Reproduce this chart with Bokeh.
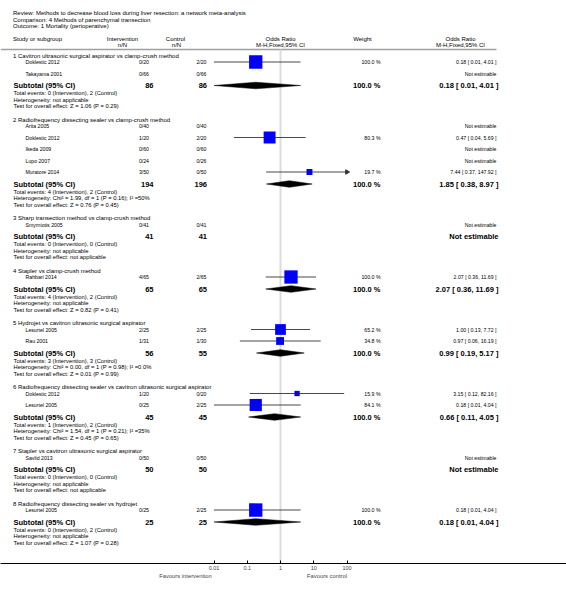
import math
from bokeh.plotting import figure
from bokeh.models import (Range1d, LogScale, LogAxis, FixedTicker,
                          CustomJSTickFormatter, ColumnDataSource)
from bokeh.core.properties import value
from bokeh.embed import file_html
from bokeh.resources import INLINE

# ---------------- data ----------------
review = "Review:  Methods to decrease blood loss during liver resection: a network meta-analysis"
comparison = "Comparison:  4 Methods of parenchymal transection"
outcome = "Outcome:  1 Mortality (perioperative)"

group_titles = [
    "1 Cavitron ultrasonic surgical aspirator vs clamp-crush method",
    "2 Radiofrequency dissecting sealer vs clamp-crush method",
    "3 Sharp transection method vs clamp-crush method",
    "4 Stapler vs clamp-crush method",
    "5 Hydrojet vs cavitron ultrasonic surgical aspirator",
    "6 Radiofrequency dissecting sealer vs cavitron ultrasonic surgical aspirator",
    "7 Stapler vs cavitron ultrasonic surgical aspirator",
    "8 Radiofrequency dissecting sealer vs hydrojet",
]
study_group = [0, 0, 1, 1, 1, 1, 1, 2, 3, 4, 4, 5, 5, 6, 7]
study_names = ["Doklestic 2012", "Takayama 2001",
               "Arita 2005", "Doklestic 2012", "Ikeda 2009", "Lupo 2007", "Muratore 2014",
               "Smyrniotis 2005", "Rahbari 2014",
               "Lesurtel 2005", "Rau 2001",
               "Doklestic 2012", "Lesurtel 2005",
               "Savlid 2013", "Lesurtel 2005"]
int_events = [0, 0, 0, 1, 0, 0, 3, 0, 4, 2, 1, 1, 0, 0, 0]
int_total = [20, 66, 40, 20, 60, 24, 50, 41, 65, 25, 31, 20, 25, 50, 25]
ctl_events = [2, 0, 0, 2, 0, 0, 0, 0, 2, 2, 1, 0, 2, 0, 2]
ctl_total = [20, 66, 40, 20, 60, 26, 50, 41, 65, 25, 30, 20, 25, 50, 25]
study_weight = [100.0, None, None, 80.3, None, None, 19.7, None, 100.0, 65.2, 34.8, 15.9, 84.1, None, 100.0]
study_or = [0.18, None, None, 0.47, None, None, 7.44, None, 2.07, 1.00, 0.97, 3.15, 0.18, None, 0.18]
study_lo = [0.01, None, None, 0.04, None, None, 0.37, None, 0.36, 0.13, 0.06, 0.12, 0.01, None, 0.01]
study_hi = [4.01, None, None, 5.69, None, None, 147.92, None, 11.69, 7.72, 16.19, 82.16, 4.04, None, 4.04]

sub_int_total = [86, 194, 41, 65, 56, 45, 50, 25]
sub_ctl_total = [86, 196, 41, 65, 55, 45, 50, 25]
sub_int_events = [0, 4, 0, 4, 3, 1, 0, 0]
sub_ctl_events = [2, 2, 0, 2, 3, 2, 0, 2]
sub_weight = [100.0, 100.0, None, 100.0, 100.0, 100.0, None, 100.0]
sub_or = [0.18, 1.85, None, 2.07, 0.99, 0.66, None, 0.18]
sub_lo = [0.01, 0.38, None, 0.36, 0.19, 0.11, None, 0.01]
sub_hi = [4.01, 8.97, None, 11.69, 5.17, 4.05, None, 4.04]
heterogeneity = ["not applicable",
                 "Chi\u00b2 = 1.99, df = 1 (P = 0.16); I\u00b2 =50%",
                 "not applicable", "not applicable",
                 "Chi\u00b2 = 0.00, df = 1 (P = 0.98); I\u00b2 =0.0%",
                 "Chi\u00b2 = 1.54, df = 1 (P = 0.21); I\u00b2 =35%",
                 "not applicable", "not applicable"]
overall_effect = ["Z = 1.06 (P = 0.29)", "Z = 0.76 (P = 0.45)", "not applicable",
                  "Z = 0.82 (P = 0.41)", "Z = 0.01 (P = 0.99)", "Z = 0.45 (P = 0.65)",
                  "not applicable", "Z = 1.07 (P = 0.28)"]
axis_ticks = [0.01, 0.1, 1, 10, 100]
axis_labels = ["0.01", "0.1", "1", "10", "100"]
favour_labels = ["Favours intervention", "Favours control"]

# ---------------- layout (screen-like coordinates) ----------------
W, H = 566, 588
OFF = 0
AXIS_Y = 563
PLOT_MIN, PLOT_MAX = 0.01, 100.0
X_ONE, DECADE = 280.0, 33.25
FAV_CENTERS = [185.0, 326.5]   # screen positions of the 'Favours' captions

FONT = value("Liberation Sans")

p = figure(width=W, height=H, output_backend="svg", toolbar_location=None,
           x_axis_location=None, y_axis_location=None,
           x_range=Range1d(OFF, OFF + W), y_range=Range1d(AXIS_Y, OFF),
           min_border_left=0, min_border_right=0, min_border_top=0,
           min_border_bottom=H - (AXIS_Y - OFF))
p.outline_line_color = None
p.grid.visible = False
p.background_fill_color = "white"
p.border_fill_color = "white"

lo_log = (OFF - X_ONE) / DECADE
hi_log = (OFF + W - X_ONE) / DECADE
p.extra_x_ranges = {"or": Range1d(10 ** lo_log, 10 ** hi_log)}
p.extra_x_scales = {"or": LogScale()}

# row positions
rows_study, rows_group, rows_sub = {}, [], []
y = 55.0
for g in range(len(group_titles)):
    rows_group.append(y)
    idx = [i for i, sg in enumerate(study_group) if sg == g]
    yy = y + 6.5
    for k, i in enumerate(idx):
        rows_study[i] = yy + 11.5 * k
    s = rows_study[idx[-1]] + 12
    rows_sub.append(s)
    y = s + 20.8 + 13.2

def txt(xs, ys, texts, size, align="left", bold=False, color="black"):
    src = ColumnDataSource(dict(x=xs, y=ys, t=texts))
    p.text(x="x", y="y", text="t", source=src, text_font=FONT,
           text_font_size=size, text_align=align, text_baseline="middle",
           text_color=color, text_font_style="bold" if bold else "normal")

# header texts
txt([12.5, 12.5, 12.5], [12.5, 19, 25], [review, comparison, outcome], "6px")
txt([12.5], [38.5], ["Study or subgroup"], "6px")
txt([122, 122, 175, 176, 280, 280, 362, 460, 460],
    [38, 44, 38, 44, 38, 44, 38, 38, 44],
    ["Intervention", "n/N", "Control", "n/N", "Odds Ratio", "M-H,Fixed,95% CI",
     "Weight", "Odds Ratio", "M-H,Fixed,95% CI"], "6px", align="center")

# header rule and reference line
p.segment(x0=[OFF], x1=[496], y0=[49], y1=[49], line_color="#a0a0a0", line_width=1.5)
p.segment(x0=[1], x1=[1], y0=[49], y1=[AXIS_Y], line_color="#dcdcdc", line_width=2,
          x_range_name="or")

# group titles
txt([12.5] * len(group_titles), rows_group, group_titles, "6px")

# studies
sy = [rows_study[i] for i in range(len(study_names))]
txt([25] * len(study_names), sy, study_names, "5.2px")
txt([148.5] * len(study_names), sy, [f"{a}/{b}" for a, b in zip(int_events, int_total)], "5.2px", align="right")
txt([206] * len(study_names), sy, [f"{a}/{b}" for a, b in zip(ctl_events, ctl_total)], "5.2px", align="right")
wy, wt, oy, ot = [], [], [], []
for i in range(len(study_names)):
    if study_weight[i] is not None:
        wy.append(sy[i]); wt.append(f"{study_weight[i]:.1f} %")
    oy.append(sy[i])
    if study_or[i] is None:
        ot.append("Not estimable")
    else:
        ot.append(f"{study_or[i]:.2f} [ {study_lo[i]:.2f}, {study_hi[i]:.2f} ]")
txt([380] * len(wy), wy, wt, "5.2px", align="right")
txt([496] * len(oy), oy, ot, "5.2px", align="right")

# study CIs and squares
cx0, cx1, cy, mx, my, ms = [], [], [], [], [], []
ax, ay = [], []
for i in range(len(study_names)):
    if study_or[i] is None:
        continue
    cx0.append(max(study_lo[i], PLOT_MIN)); cx1.append(min(study_hi[i], PLOT_MAX)); cy.append(sy[i])
    mx.append(study_or[i]); my.append(sy[i]); ms.append(13.3 * math.sqrt(study_weight[i] / 100.0))
    if study_hi[i] > PLOT_MAX:
        ax.append(PLOT_MAX); ay.append(sy[i])
p.segment(x0=cx0, x1=cx1, y0=cy, y1=cy, line_color="#333333", line_width=0.9, x_range_name="or")
p.scatter(x=mx, y=my, size=ms, marker="square", fill_color="#0000ff", line_color=None,
          x_range_name="or")
p.scatter(x=mx, y=my, size=3, marker="dash", angle=math.pi / 2, line_color="#222222",
          line_width=0.7, x_range_name="or")
if ax:
    p.scatter(x=ax, y=ay, size=4.5, marker="triangle", angle=-math.pi / 2,
              fill_color="#333333", line_color="#333333", x_range_name="or")

# subtotals
ng = len(group_titles)
txt([13] * ng, rows_sub, ["Subtotal (95% CI)"] * ng, "7.5px", bold=True)
txt([153] * ng, rows_sub, [str(v) for v in sub_int_total], "7.5px", align="right", bold=True)
txt([206.5] * ng, rows_sub, [str(v) for v in sub_ctl_total], "7.5px", align="right", bold=True)
swy, swt, sot = [], [], []
for g in range(ng):
    if sub_weight[g] is not None:
        swy.append(rows_sub[g]); swt.append(f"{sub_weight[g]:.1f} %")
    if sub_or[g] is None:
        sot.append("Not estimable")
    else:
        sot.append(f"{sub_or[g]:.2f} [ {sub_lo[g]:.2f}, {sub_hi[g]:.2f} ]")
txt([380] * len(swy), swy, swt, "7.5px", align="right", bold=True)
txt([498] * ng, rows_sub, sot, "7.5px", align="right", bold=True)

foot_y, foot_t = [], []
for g in range(ng):
    s = rows_sub[g]
    foot_y += [s + 7.8, s + 14.2, s + 20.8]
    foot_t += [f"Total events: {sub_int_events[g]} (Intervention), {sub_ctl_events[g]} (Control)",
               f"Heterogeneity: {heterogeneity[g]}",
               f"Test for overall effect: {overall_effect[g]}"]
txt([13] * len(foot_y), foot_y, foot_t, "5.8px")

# diamonds
dxs, dys = [], []
for g in range(ng):
    if sub_or[g] is None:
        continue
    s = rows_sub[g]
    dxs.append([sub_lo[g], sub_or[g], sub_hi[g], sub_or[g]])
    dys.append([s, s - 3.3, s, s + 3.3])
p.patches(xs=dxs, ys=dys, fill_color="black", line_color="black", line_width=0.5,
          x_range_name="or")

# axis
axis = LogAxis(x_range_name="or", ticker=FixedTicker(ticks=axis_ticks),
               formatter=CustomJSTickFormatter(
                   args=dict(tv=axis_ticks, lv=axis_labels),
                   code="for (let k = 0; k < tv.length; k++) { if (Math.abs(tv[k] - tick) < 1e-9 * Math.max(1, tv[k])) { return lv[k]; } } return '';"))
axis.major_tick_in = 3
axis.major_tick_out = 0
axis.minor_tick_in = 0
axis.minor_tick_out = 0
axis.axis_line_color = "black"
axis.axis_line_width = 1
axis.major_tick_line_color = "black"
axis.major_label_text_font = "Liberation Sans"
axis.major_label_text_font_size = "5.5px"
axis.major_label_standoff = 2
p.add_layout(axis, "below")

# 'Favours' captions as a second, line-less axis
fav_ticks = [10 ** ((c - X_ONE) / DECADE) for c in FAV_CENTERS]
fav_axis = LogAxis(x_range_name="or", ticker=FixedTicker(ticks=fav_ticks),
                   formatter=CustomJSTickFormatter(
                       args=dict(tv=fav_ticks, lv=favour_labels),
                       code="for (let k = 0; k < tv.length; k++) { if (Math.abs(tv[k] - tick) < 1e-6 * tv[k]) { return lv[k]; } } return '';"))
fav_axis.axis_line_color = None
fav_axis.major_tick_line_color = None
fav_axis.minor_tick_line_color = None
fav_axis.major_tick_in = 0
fav_axis.major_tick_out = 0
fav_axis.minor_tick_in = 0
fav_axis.minor_tick_out = 0
fav_axis.major_label_text_font = "Liberation Sans"
fav_axis.major_label_text_font_size = "5.8px"
fav_axis.major_label_standoff = 0
p.add_layout(fav_axis, "below")

open("out.html", "w").write(file_html(p, INLINE))
